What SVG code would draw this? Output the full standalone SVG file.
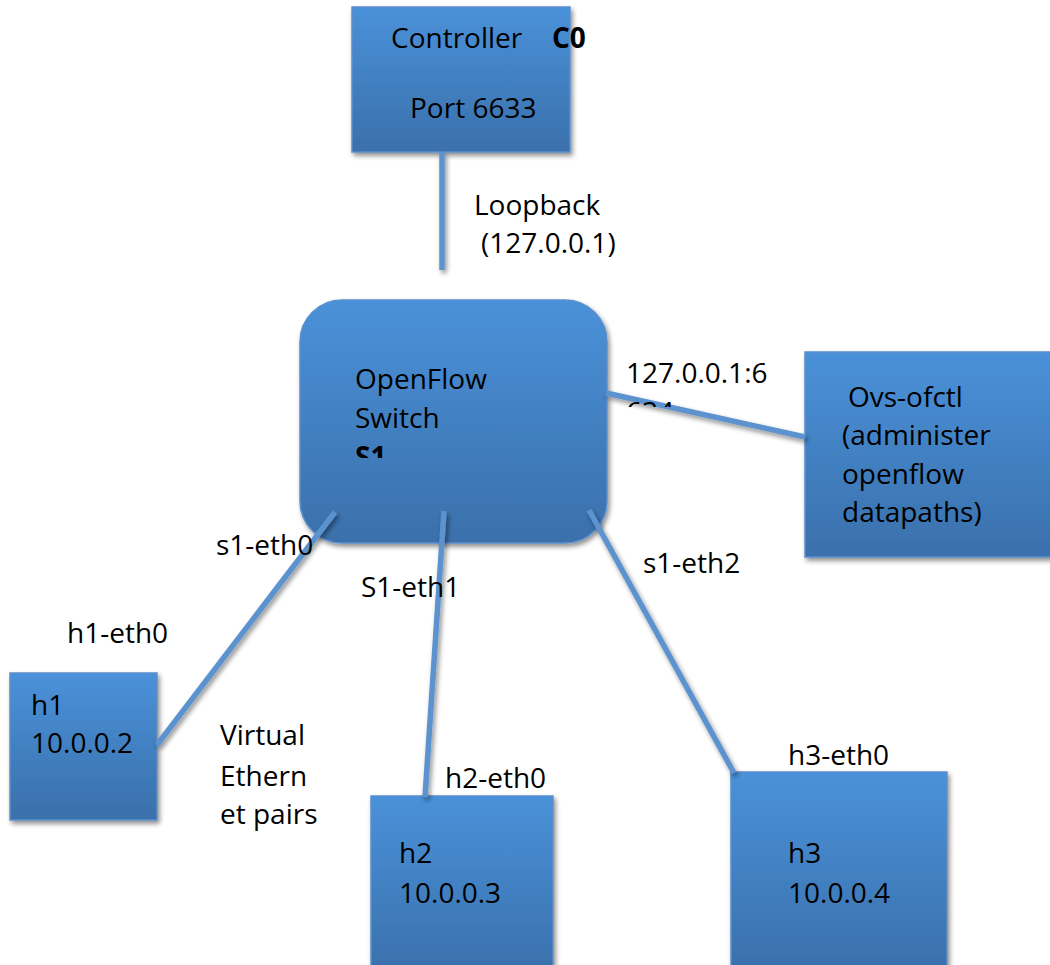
<svg xmlns="http://www.w3.org/2000/svg" width="1050" height="965" viewBox="0 0 1050 965">
<defs>
<linearGradient id="blue" x1="0" y1="0" x2="0" y2="1">
<stop offset="0" stop-color="#4a91d9"/>
<stop offset="1" stop-color="#3a70ab"/>
</linearGradient>
<filter id="sh" x="-10%" y="-10%" width="125%" height="125%">
<feGaussianBlur in="SourceAlpha" stdDeviation="2.5"/>
<feOffset dx="2" dy="3" result="b"/>
<feComponentTransfer><feFuncA type="linear" slope="0.45"/></feComponentTransfer>
<feMerge><feMergeNode/><feMergeNode in="SourceGraphic"/></feMerge>
</filter>
<clipPath id="clipS1"><rect x="300" y="300" width="307" height="158"/></clipPath>
<clipPath id="clipPort"><rect x="600" y="340" width="200" height="67"/></clipPath>
</defs>
<style>
.box{fill:url(#blue);stroke:#5b8fcb;stroke-width:1.5;filter:url(#sh)}
.t{font-family:"Open Sans","Liberation Sans",sans-serif;font-size:28px;fill:#000}
.b{font-weight:bold}
.ln{stroke:#5b93cf;stroke-width:5.5;fill:none;stroke-linecap:butt}
</style>
<rect width="1050" height="965" fill="#fff"/>

<g id="controller">
<rect class="box" x="352" y="7" width="218" height="145"/>
<text class="t" x="391" y="48">Controller</text>
<text class="t b" x="552" y="48">C0</text>
<text class="t" x="410" y="118">Port 6633</text>
</g>

<g id="switch">
<rect class="box" x="300" y="300" width="307" height="243" rx="42" ry="42"/>
<text class="t" x="355" y="389">OpenFlow</text>
<text class="t" x="355" y="428">Switch</text>
<text class="t b" x="355" y="467" clip-path="url(#clipS1)">S1</text>
</g>

<g id="ovs">
<rect class="box" x="805" y="352" width="250" height="205"/>
<text class="t" x="848" y="407">Ovs-ofctl</text>
<text class="t" x="842" y="445">(administer</text>
<text class="t" x="842" y="484">openflow</text>
<text class="t" x="842" y="522">datapaths)</text>
</g>

<g id="h1">
<rect class="box" x="10" y="673" width="147" height="147"/>
<text class="t" x="31" y="715">h1</text>
<text class="t" x="31" y="753">10.0.0.2</text>
</g>

<g id="h2">
<rect class="box" x="371" y="796" width="182" height="180"/>
<text class="t" x="399" y="863">h2</text>
<text class="t" x="399" y="903">10.0.0.3</text>
</g>

<g id="h3">
<rect class="box" x="731" y="772" width="216" height="200"/>
<text class="t" x="788" y="863">h3</text>
<text class="t" x="788" y="903">10.0.0.4</text>
</g>

<g id="connectors" filter="url(#sh)">
<line class="ln" x1="442" y1="152" x2="442" y2="270"/>
<line class="ln" x1="606" y1="393" x2="805" y2="437"/>
<line class="ln" x1="335" y1="512" x2="157" y2="745"/>
<line class="ln" x1="444" y1="511" x2="425" y2="797"/>
<line class="ln" x1="589" y1="510" x2="734" y2="773"/>
</g>

<g id="labels">
<text class="t" x="474" y="215">Loopback</text>
<text class="t" x="481" y="253">(127.0.0.1)</text>
<text class="t" x="626" y="383">127.0.0.1:6</text>
<text class="t" x="626" y="422" clip-path="url(#clipPort)">634</text>
<text class="t" x="216" y="555">s1-eth0</text>
<text class="t" x="361" y="597">S1-eth1</text>
<text class="t" x="643" y="573">s1-eth2</text>
<text class="t" x="67" y="643">h1-eth0</text>
<text class="t" x="220" y="745">Virtual</text>
<text class="t" x="220" y="786">Ethern</text>
<text class="t" x="220" y="824">et pairs</text>
<text class="t" x="445" y="788">h2-eth0</text>
<text class="t" x="788" y="765">h3-eth0</text>
</g>
</svg>
